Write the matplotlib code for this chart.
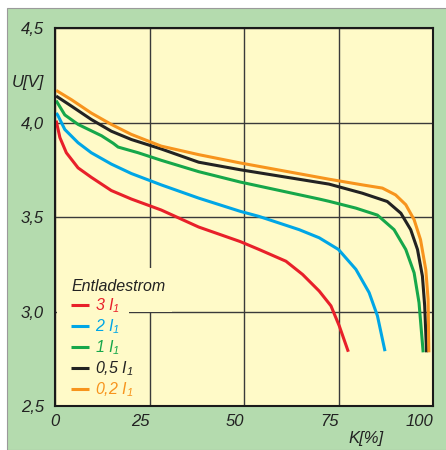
import matplotlib
matplotlib.use("Agg")
import matplotlib.pyplot as plt
from matplotlib.patches import Rectangle

# Entladekurven (K in %, U in V)
k_3 = [0.3, 1.3, 3.0, 6.1, 9.6, 14.9, 20.2, 28.1, 38, 49, 54, 61.1, 65.5, 69.9, 73, 75.2, 77.6]
u_3 = [4.01, 3.92, 3.84, 3.76, 3.71, 3.64, 3.595, 3.537, 3.447, 3.37, 3.328, 3.266, 3.196, 3.108, 3.03, 2.924, 2.787]

k_2 = [0.3, 0.7, 2.6, 6.1, 9.6, 14.9, 20.2, 28.1, 38, 49, 54, 59.3, 64.6, 69.9, 75, 79.6, 83.1, 85.3, 87.3]
u_2 = [4.05, 4.04, 3.963, 3.893, 3.84, 3.78, 3.73, 3.67, 3.60, 3.53, 3.503, 3.468, 3.433, 3.39, 3.328, 3.223, 3.10, 2.977, 2.79]

k_1 = [0.3, 2.6, 6.1, 12.3, 15.4, 16.7, 22, 28.1, 38, 49, 69.9, 72.5, 79.6, 85.3, 89.7, 92.8, 95, 96.3, 97.4]
u_1 = [4.116, 4.04, 3.99, 3.93, 3.89, 3.87, 3.84, 3.80, 3.74, 3.685, 3.595, 3.583, 3.547, 3.51, 3.433, 3.328, 3.205, 3.047, 2.784]

k_05 = [0.3, 4.4, 9.6, 14.9, 20.2, 28.1, 38, 49, 72.5, 81.3, 87.9, 91.5, 94.1, 95.9, 97.2, 97.8, 98.3]
u_05 = [4.14, 4.086, 4.016, 3.954, 3.91, 3.86, 3.79, 3.75, 3.674, 3.626, 3.582, 3.52, 3.433, 3.328, 3.187, 3.03, 2.784]

k_02 = [0.3, 4.4, 9.6, 14.9, 20.2, 28.1, 38, 49, 72.5, 81.3, 86.6, 90.1, 92.8, 95, 96.7, 98.1, 98.7, 98.9]
u_02 = [4.17, 4.12, 4.05, 3.99, 3.937, 3.875, 3.83, 3.786, 3.70, 3.67, 3.653, 3.617, 3.565, 3.486, 3.38, 3.22, 3.065, 2.784]

labels = ["3 $\\mathit{I}_1$", "2 $\\mathit{I}_1$", "1 $\\mathit{I}_1$",
          "0,5 $\\mathit{I}_1$", "0,2 $\\mathit{I}_1$"]
colors = ["#e8202a", "#00a6e6", "#16a74a", "#222222", "#f7941d"]

xticks = [0, 25, 50, 75, 100]
xticklabels = ["0", "25", "50", "75", "100"]
yticks = [2.5, 3.0, 3.5, 4.0, 4.5]
yticklabels = ["2,5", "3,0", "3,5", "4,0", "4,5"]

green = "#b4dbae"
yellow = "#fffac8"

plt.rcParams['font.family'] = ['Liberation Sans', 'DejaVu Sans']
plt.rcParams['mathtext.fontset'] = 'custom'
plt.rcParams['mathtext.it'] = 'Liberation Sans:italic'
plt.rcParams['mathtext.rm'] = 'Liberation Sans:italic'

fig = plt.figure(figsize=(4.46, 4.5), dpi=100, facecolor="white")
fig.add_artist(Rectangle((7 / 446, 0), 1, 1 - 8 / 450, transform=fig.transFigure,
                         facecolor=green, edgecolor="#9a9a9a", linewidth=0.8, zorder=-10))

ax = fig.add_axes([55 / 446, 1 - 406 / 450, 378 / 446, 378 / 450])
ax.set_zorder(1)
ax.set_facecolor(yellow)

for k, u, lab, c in zip([k_3, k_2, k_1, k_05, k_02], [u_3, u_2, u_1, u_05, u_02], labels, colors):
    ax.plot(k, u, color=c, linewidth=2.2, label=lab, solid_capstyle="butt", solid_joinstyle="round")

ax.set_xlim(0, 100)
ax.set_ylim(2.5, 4.5)
ax.set_xticks(xticks)
ax.set_xticklabels(xticklabels, fontsize=12, style="italic")
for t, x in zip(ax.get_xticklabels(), xticks):
    if x > 0:
        t.set_ha("right")
ax.set_yticks(yticks)
ax.set_yticklabels(yticklabels, fontsize=12, style="italic")
ax.tick_params(length=0, pad=8, colors="#222222")
ax.tick_params(axis="x", pad=6)
ax.grid(True, color="#3a3a3a", linewidth=1.0)
ax.set_axisbelow(True)
for s in ax.spines.values():
    s.set_linewidth(1.5)
    s.set_color("#1a1a1a")

# gelber Hintergrund hinter der Legende (verdeckt Teile des Gitters)
ax.add_patch(Rectangle((0.005, 0.249), 0.305, 0.116, transform=ax.transAxes,
                       facecolor=yellow, edgecolor="none", zorder=1.5))
ax.add_patch(Rectangle((0.005, 0.016), 0.19, 0.24, transform=ax.transAxes,
                       facecolor=yellow, edgecolor="none", zorder=1.5))

ax.text(-0.072, 0.857, "U[V]", transform=ax.transAxes, ha="center", va="center",
        fontsize=12, style="italic", color="#222222")
ax.text(0.823, -0.085, "K[%]", transform=ax.transAxes, ha="center", va="center",
        fontsize=12, style="italic", color="#222222")

leg = ax.legend(loc="upper left", bbox_to_anchor=(0.018, 0.362), title="Entladestrom",
                prop={"style": "italic", "size": 11.5},
                title_fontproperties={"style": "italic", "size": 11.5},
                handlelength=1.1, handletextpad=0.35, labelspacing=0.15,
                borderpad=0.3, borderaxespad=0.3, alignment="left", frameon=False)
for t, c in zip(leg.get_texts(), colors):
    t.set_color(c)
leg.get_title().set_color("#222222")

fig.savefig("out.png", dpi=100, facecolor=fig.get_facecolor())
